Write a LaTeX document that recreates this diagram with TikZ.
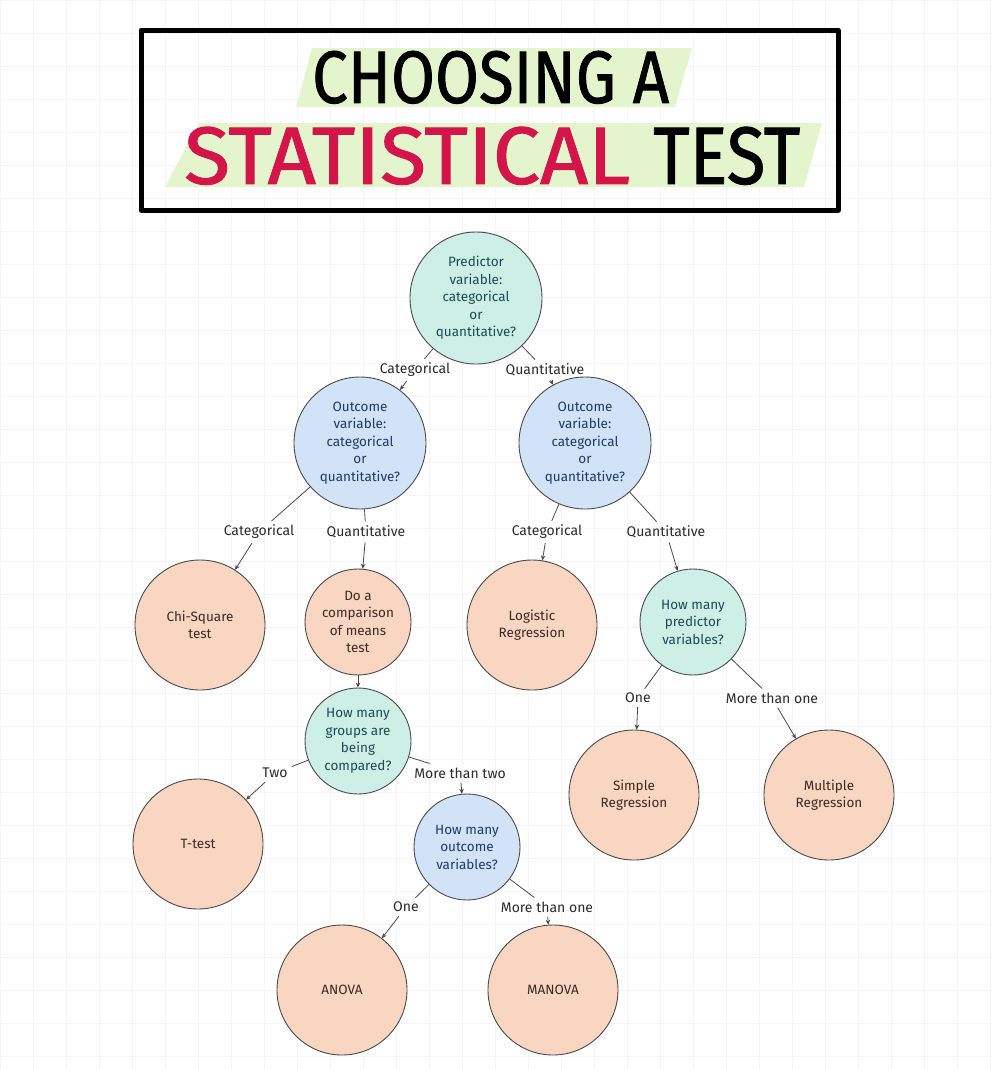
\documentclass[tikz,border=0pt]{standalone}
\usepackage{graphicx}
\usepackage{fontspec}
\setmainfont{Fira Sans}
\newfontfamily\titlefont{Fira Sans}[FakeBold=1.2]
\usetikzlibrary{arrows.meta}
\definecolor{mintc}{HTML}{CDEFE5}
\definecolor{bluec}{HTML}{D2E2F7}
\definecolor{peachc}{HTML}{F9D6C2}
\definecolor{edgec}{HTML}{4A4A4A}
\definecolor{minttext}{HTML}{1E4A56}
\definecolor{bluetext}{HTML}{1F3A66}
\definecolor{peachtext}{HTML}{3A2A22}
\definecolor{labc}{HTML}{2B2B2B}
\definecolor{hlc}{HTML}{E4F5CE}
\definecolor{titlered}{HTML}{D4154A}
\newcommand\nodefont{\fontsize{13.5}{17.5}\selectfont}
\newcommand\labfont{\fontsize{14}{16}\selectfont}
\tikzset{
  qn/.style={circle, draw=edgec, line width=0.9pt, inner sep=0pt, align=center, font=\nodefont},
  mintnode/.style={qn, fill=mintc, text=minttext},
  bluenode/.style={qn, fill=bluec, text=bluetext},
  leafnode/.style={qn, fill=peachc, text=peachtext},
  bigsz/.style={minimum size=132pt},
  leafsz/.style={minimum size=130pt},
  smallsz/.style={minimum size=106pt},
  lab/.style={font=\labfont, text=labc, inner sep=4pt},
  ln/.style={draw=edgec, line width=0.8pt},
  arr/.style={ln, -{Stealth[length=5pt,width=4.5pt]}}
}
\begin{document}
\begin{tikzpicture}[x=1pt,y=-1pt]
\useasboundingbox (0,0) rectangle (992,1069);
\fill[white] (0,0) rectangle (992,1069);
\draw[black!4, line width=0.4pt, step=33pt] (0,0) grid (992,1069);

% title
\fill[hlc] (312,48) -- (692,48) -- (675,107) -- (296,107) -- cycle;
\fill[hlc] (199,123) -- (822,123) -- (804,187) -- (165,187) -- cycle;
\draw[black, line width=5pt, line join=round] (141,30) rectangle (838,210);
\node[anchor=south west, inner sep=0pt] (t1) at (312,104)
  {\resizebox{357pt}{52pt}{\titlefont CHOOSING A}};
\node[anchor=south west, inner sep=0pt, text=titlered] (t2) at (184,185)
  {\resizebox{446pt}{57pt}{\titlefont STATISTICAL}};
\node[anchor=south west, inner sep=0pt] (t3) at (653,185)
  {\resizebox{147pt}{57pt}{\titlefont TEST}};

% nodes
\node[mintnode, bigsz] (P) at (476,298) {Predictor\\variable:\\categorical\\or\\quantitative?};
\node[bluenode, bigsz] (O1) at (360,443) {Outcome\\variable:\\categorical\\or\\quantitative?};
\node[bluenode, bigsz] (O2) at (585,443) {Outcome\\variable:\\categorical\\or\\quantitative?};
\node[leafnode, leafsz] (Chi) at (200,625) {Chi-Square\\test};
\node[leafnode, smallsz] (Do) at (358,622) {Do a\\comparison\\of means\\test};
\node[leafnode, leafsz] (Log) at (532,625) {Logistic\\Regression};
\node[mintnode, smallsz] (HP) at (693,622) {How many\\predictor\\variables?};
\node[mintnode, smallsz] (HG) at (358,741) {How many\\groups are\\being\\compared?};
\node[leafnode, leafsz] (T) at (198,844) {T-test};
\node[leafnode, leafsz] (Sim) at (634,795) {Simple\\Regression};
\node[leafnode, leafsz] (Mul) at (829,795) {Multiple\\Regression};
\node[bluenode, smallsz] (HO) at (467,847) {How many\\outcome\\variables?};
\node[leafnode, leafsz] (An) at (342,990) {ANOVA};
\node[leafnode, leafsz] (Man) at (553,990) {MANOVA};

% labels
\node[lab] (l1) at (415,370) {Categorical};
\node[lab] (l2) at (545,370) {Quantitative};
\node[lab] (l3) at (259,532) {Categorical};
\node[lab] (l4) at (366,532) {Quantitative};
\node[lab] (l5) at (547,532) {Categorical};
\node[lab] (l6) at (666,532) {Quantitative};
\node[lab] (l7) at (638,698) {One};
\node[lab] (l8) at (772,698) {More than one};
\node[lab] (l9) at (275,773) {Two};
\node[lab] (l10) at (460,773) {More than two};
\node[lab] (l11) at (406,907) {One};
\node[lab] (l12) at (547,907) {More than one};

% connectors
\draw[ln] (P) -- (l1); \draw[arr] (l1) -- (O1);
\draw[ln] (P) -- (l2); \draw[arr] (l2) -- (O2);
\draw[ln] (O1) -- (l3); \draw[arr] (l3) -- (Chi);
\draw[ln] (O1) -- (l4); \draw[arr] (l4) -- (Do);
\draw[ln] (O2) -- (l5); \draw[arr] (l5) -- (Log);
\draw[ln] (O2) -- (l6); \draw[arr] (l6) -- (HP);
\draw[arr] (Do) -- (HG);
\draw[ln] (HP) -- (l7); \draw[arr] (l7) -- (Sim);
\draw[ln] (HP) -- (l8); \draw[arr] (l8) -- (Mul);
\draw[ln] (HG) -- (l9); \draw[arr] (l9) -- (T);
\draw[ln] (HG) -- (l10); \draw[arr] (l10) -- (HO);
\draw[ln] (HO) -- (l11); \draw[arr] (l11) -- (An);
\draw[ln] (HO) -- (l12); \draw[arr] (l12) -- (Man);
\end{tikzpicture}
\end{document}
